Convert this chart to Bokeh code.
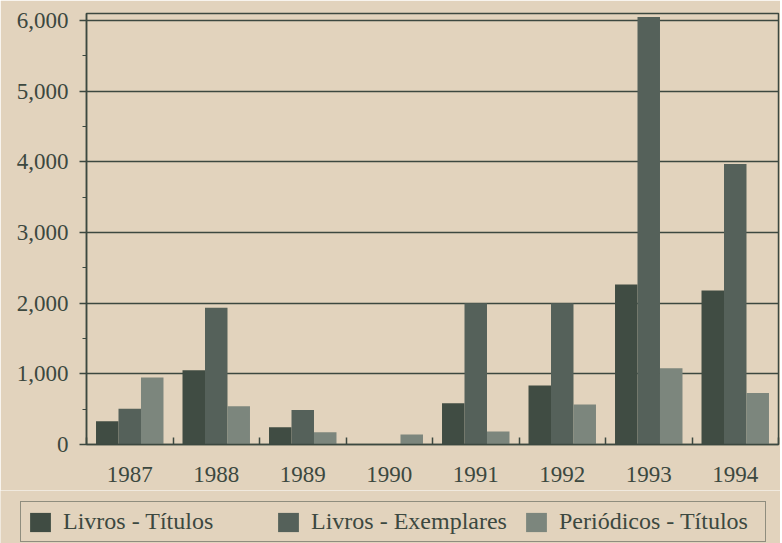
from bokeh.plotting import figure
from bokeh.models import (ColumnDataSource, FixedTicker, NumeralTickFormatter,
                          Legend, LegendItem, Range1d)
from bokeh.embed import file_html
from bokeh.resources import INLINE
from bokeh.transform import dodge

years = ["1987", "1988", "1989", "1990", "1991", "1992", "1993", "1994"]
livros_titulos = [330, 1050, 245, 0, 585, 835, 2265, 2180]
livros_exemplares = [505, 1935, 490, 0, 2000, 2000, 6050, 3970]
periodicos_titulos = [950, 540, 175, 140, 185, 565, 1080, 730]
series_names = ["Livros - Títulos", "Livros - Exemplares", "Periódicos - Títulos"]
y_ticks = [0, 1000, 2000, 3000, 4000, 5000, 6000]

BG = "#e2d3bd"
INK = "#3c4840"
FONT = "Liberation Serif"
colors = ["#404c43", "#55615a", "#7c867d"]

centers = [i + 0.5 for i in range(len(years))]
src = ColumnDataSource(dict(x=centers, t=livros_titulos, e=livros_exemplares,
                            p=periodicos_titulos))

p = figure(width=780, height=490, output_backend="svg", toolbar_location=None,
           x_range=Range1d(0, len(years)), y_range=Range1d(0, 6100),
           min_border_left=86, min_border_right=2, min_border_top=13,
           min_border_bottom=46)
p.background_fill_color = BG
p.border_fill_color = BG
p.outline_line_color = INK
p.outline_line_width = 1.5

w = 0.26
bar_cols = ["t", "e", "p"]
offsets = [-w, 0, w]
for col, off, c in zip(bar_cols, offsets, colors):
    p.vbar(x=dodge("x", off, range=p.x_range), top=col, width=w, source=src,
           fill_color=c, line_color=None)

# x axis: labels at centres, small ticks at category boundaries
p.xaxis.ticker = FixedTicker(ticks=centers, minor_ticks=list(range(len(years) + 1)))
p.xaxis.major_label_overrides = {c: y for c, y in zip(centers, years)}
p.xaxis.major_tick_line_color = None
p.xaxis.minor_tick_in = 7
p.xaxis.minor_tick_out = 0
p.xaxis.minor_tick_line_color = INK
p.xaxis.minor_tick_line_width = 1.5
p.xaxis.axis_line_color = INK
p.xaxis.axis_line_width = 1.5
p.xaxis.major_label_text_font = FONT
p.xaxis.major_label_text_font_size = "23px"
p.xaxis.major_label_text_color = INK
p.xaxis.major_label_standoff = 16
p.xgrid.visible = False

p.yaxis.ticker = FixedTicker(ticks=y_ticks, minor_ticks=[v + 500 for v in y_ticks[:-1]])
p.yaxis.formatter = NumeralTickFormatter(format="0,0")
p.yaxis.major_tick_out = 7
p.yaxis.major_tick_in = 0
p.yaxis.minor_tick_out = 4
p.yaxis.minor_tick_in = 0
p.yaxis.major_tick_line_color = INK
p.yaxis.minor_tick_line_color = INK
p.yaxis.major_tick_line_width = 1.5
p.yaxis.axis_line_color = INK
p.yaxis.axis_line_width = 1.5
p.yaxis.major_label_text_font = FONT
p.yaxis.major_label_text_font_size = "23px"
p.yaxis.major_label_text_color = INK
p.yaxis.major_label_standoff = 11
p.ygrid.grid_line_color = INK
p.ygrid.grid_line_width = 1.5
p.ygrid.level = "underlay"

# legend strip below the chart (renderers hidden, only their legend swatches show)
lg = figure(width=780, height=53, output_backend="svg", toolbar_location=None,
            x_axis_location=None, y_axis_location=None,
            x_range=Range1d(0, 1), y_range=Range1d(0, 1),
            min_border_left=0, min_border_right=0, min_border_top=0,
            min_border_bottom=0)
lg.grid.visible = False
lg.outline_line_color = None
lg.background_fill_color = BG
lg.border_fill_color = BG
items = []
for col, name, c in zip(bar_cols, series_names, colors):
    r = lg.vbar(x="x", top=col, width=0.1, source=src, fill_color=c,
                line_color=None, visible=False)
    items.append(LegendItem(label=name, renderers=[r]))

legend = Legend(items=items, orientation="horizontal", location=(20, 1))
legend.background_fill_color = BG
legend.background_fill_alpha = 1
legend.border_line_color = INK
legend.border_line_width = 1.5
legend.inactive_fill_alpha = 0
legend.label_text_font = FONT
legend.label_text_font_size = "24px"
legend.label_text_color = INK
legend.glyph_width = 26
legend.glyph_height = 24
legend.label_standoff = 10
legend.label_width = 200
legend.spacing = 12
legend.padding = 6
legend.margin = 0
lg.add_layout(legend, "center")

html = file_html((p, lg), INLINE)
html = html.replace("<body>", '<body style="background-color: %s;">' % BG, 1)
open("out.html", "w").write(html)
